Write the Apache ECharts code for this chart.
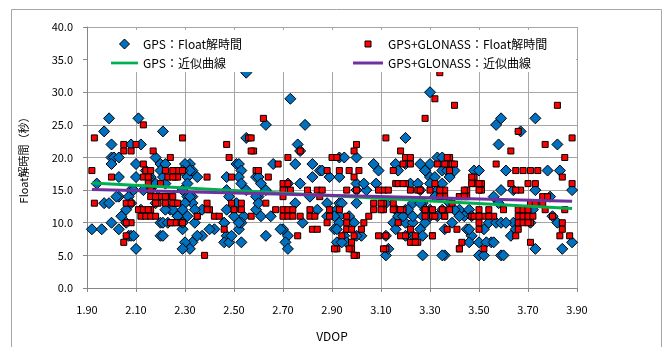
<!DOCTYPE html>
<html>
<head>
<meta charset="utf-8">
<script src="https://cdn.jsdelivr.net/npm/echarts@6/dist/echarts.min.js"></script>
<style>
  html, body { margin: 0; padding: 0; background: #fff; }
  #chart { width: 668px; height: 347px; }
</style>
</head>
<body>
<div id="chart"></div>
<script>
// GPS only: [VDOP, Float解時間]
const gpsPoints = [
  [1.92,9],[1.96,9],[1.99,26],[1.97,24],[2.0,22],[2.0,20],[2.01,20],[2.03,20],[2.0,19],[1.94,16],
  [1.97,13],[1.99,13],[2.0,10],[2.03,14],[2.02,14],[2.04,11],[2.06,10],[2.07,8],[2.1,6],[2.03,17],
  [2.11,26],[2.12,22],[2.08,22],[2.1,19],[2.1,17],[2.08,15],[2.09,15],[2.07,14],[2.08,13],[2.06,12],
  [2.08,8],[2.09,8],[2.03,9],[2.18,20],[2.2,19],[2.2,18],[2.21,17],[2.18,16],[2.16,17],[2.21,24],
  [2.14,18],[2.15,17],[2.13,15],[2.16,15],[2.19,14],[2.18,13],[2.2,10],[2.21,10],[2.2,8],[2.21,8],
  [2.24,12],[2.25,12],[2.23,10],[2.27,11],[2.29,9],[2.32,19],[2.33,18],[2.35,17],[2.31,17],[2.31,14],
  [2.33,14],[2.33,13],[2.33,7],[2.32,6],[2.34,10],[2.37,8],[2.42,9],[2.37,12],[2.47,17],[2.47,15],
  [2.46,10],[2.47,8],[2.46,7],[2.48,7],[2.49,8],[2.51,19],[2.52,19],[2.53,18],[2.52,17],[2.53,16],
  [2.55,15],[2.55,23],[2.53,7],[2.52,9],[2.5,12],[2.51,13],[2.54,11],[2.53,10],[2.59,17],[2.6,14],
  [2.59,12],[2.55,33],[2.22,19],[2.12,12],[2.22,12],[2.22,16],
  [2.3,19],[2.32,18],[2.29,18],[2.31,16],[2.29,15],[2.32,14],[2.3,13],[2.34,12],[2.29,12],[2.31,11],
  [2.27,11],[2.29,10],[2.35,8],[2.3,7],[2.29,6],[2.4,9],[2.46,10],[2.47,12],[2.48,14],[2.5,11],[2.52,10],
  [2.63,25],[2.79,25],[2.76,22],[2.77,21],[2.66,19],[2.75,19],[2.82,19],[2.85,18],[2.82,17],[2.86,18],
  [2.93,20],[2.95,20],[3.0,20],[2.93,17],[2.89,17],[3.07,19],[3.09,18],[3.08,16],[3.2,23],[3.16,19],
  [3.2,19],[3.28,18],[3.3,19],[3.33,20],[3.35,18],[2.6,17],[2.61,16],[2.63,15],[2.72,16],[2.77,16],
  [3.0,15],[3.04,15],[2.59,14],[2.6,13],[2.61,11],[2.65,11],[2.75,13],[2.78,10],[2.84,12],[2.88,13],
  [2.92,12],[2.93,11],[3.0,13],[2.88,11],[2.63,8],[2.7,9],[2.72,8],[2.71,7],[2.72,6],[2.91,9],
  [2.92,7],[2.96,7],[3.02,8],[2.99,10],[3.12,13],[3.16,12],[3.2,12],[3.15,10],[3.2,10],[3.23,10],
  [3.12,5],[3.16,9],[3.23,8],[3.26,9],[3.27,8],[3.27,5],[3.36,5],[3.23,13],[3.27,13],[3.3,12],
  [3.33,11],[3.35,12],[3.33,15],[3.35,16],[3.3,17],[3.22,16],[3.26,15],[3.32,14],[2.81,14],[2.97,11],
  [2.73,29],[3.3,30],[2.69,9],
  [3.0,16],[3.03,16],[2.93,13],[2.94,13],[2.91,11],[2.93,10],[2.92,9],[2.95,8],[2.96,7],[2.94,7],
  [3.0,8],[3.12,8],[3.13,6],[3.17,11],[3.19,11],[3.21,12],[3.23,11],[3.2,8],[3.17,18],
  [3.26,19],[3.28,18],[3.32,17],[3.25,16],[3.3,16],[3.26,13],[3.28,12],[3.27,11],[3.3,11],[3.28,10],
  [3.42,12],[3.44,11],[3.4,12],[3.38,13],[3.45,9],[3.47,8],[3.55,7],
  [3.57,25],[3.59,26],[3.73,26],[3.67,24],[3.58,22],[3.82,22],[3.35,20],[3.37,18],[3.38,17],[3.4,18],
  [3.48,18],[3.5,18],[3.61,18],[3.78,18],[3.83,18],[3.59,15],[3.73,15],[3.88,15],[3.56,14],[3.58,13],
  [3.42,11],[3.39,10],[3.36,9],[3.46,12],[3.47,11],[3.46,9],[3.52,9],[3.54,10],[3.57,10],[3.59,10],
  [3.64,10],[3.63,8],[3.65,9],[3.46,7],[3.5,7],[3.53,7],[3.56,7],[3.5,5],[3.52,5],[3.59,5],
  [3.35,5],[3.73,6],[3.8,11],[3.82,10],[3.84,6],[3.88,7],[3.68,11],[3.72,12],
  [3.79,14],[3.64,15],[3.71,10],[3.6,5],[3.61,10]
];

// GPS+GLONASS: [VDOP, Float解時間]
const glonassPoints = [
  [1.92,18],[1.93,23],[1.93,13],[2.0,17],[2.05,22],[2.05,21],[2.08,21],[2.06,13],[2.08,13],[2.08,10],
  [2.06,8],[2.05,7],[2.1,22],[2.13,25],[2.13,19],[2.14,18],[2.13,17],[2.12,12],[2.12,11],[2.14,11],
  [2.16,18],[2.15,17],[2.16,15],[2.16,14],[2.16,12],[2.16,11],[2.18,11],[2.17,21],[2.19,13],[2.2,16],
  [2.2,14],[2.22,18],[2.23,17],[2.23,14],[2.24,20],[2.26,18],[2.26,17],[2.27,18],[2.27,17],[2.25,14],
  [2.26,13],[2.25,10],[2.28,10],[2.29,18],[2.29,23],[2.35,11],[2.38,5],[2.39,17],[2.39,13],[2.4,12],
  [2.42,11],[2.44,11],[2.46,9],[2.47,22],[2.48,20],[2.49,17],[2.49,13],[2.5,12],[2.53,13],[2.56,23],
  [2.58,21],[2.59,18],[2.57,11],
  [2.11,12],[2.13,12],[2.15,12],[2.18,14],[2.22,14],[2.22,13],[2.18,13],[2.06,10],[2.15,16],
  [2.25,18],[2.25,17],[2.25,13],[2.27,13],[2.39,12],[2.35,11],[2.26,10],[2.24,10],[2.29,10],[2.53,12],
  [2.62,26],[3.28,26],[2.57,23],[2.57,21],[2.77,21],[3.0,22],[2.99,21],[3.12,23],[3.18,21],[3.2,20],
  [3.22,20],[3.22,19],[3.15,18],[3.19,19],[2.9,20],[2.72,20],[2.68,19],[2.6,18],[2.64,17],[2.88,18],
  [2.93,18],[2.97,18],[3.01,18],[2.99,17],[2.7,16],[2.72,16],[2.7,15],[2.73,15],[2.7,14],[2.8,15],
  [2.84,15],[2.86,15],[2.85,14],[2.96,15],[3.0,15],[3.11,15],[3.13,15],[3.16,16],[3.2,16],[3.25,15],
  [3.32,16],[2.63,13],[2.67,12],[2.7,12],[2.72,12],[2.74,12],[2.7,11],[2.72,11],[2.74,11],[2.81,12],
  [2.81,11],[2.83,11],[2.77,11],[2.89,12],[2.93,12],[2.96,11],[2.96,10],[2.97,9],[3.03,10],[3.05,11],
  [3.07,13],[3.07,12],[3.11,13],[3.11,12],[3.16,12],[3.19,12],[3.28,12],[3.31,11],[3.35,12],[2.82,9],
  [2.84,9],[2.88,10],[2.76,8],[2.94,8],[2.98,7],[2.98,6],[3.0,5],[2.92,6],[3.12,8],[3.12,6],
  [3.17,10],[3.23,7],[3.25,7],[3.31,8],[3.32,11],[2.91,6],[2.89,11],
  [3.32,29],[3.4,28],[3.34,33],[3.82,28],
  [2.92,20],[3.09,15],[3.17,16],[3.19,16],[3.22,15],[3.1,13],[3.1,12],[3.15,13],[3.15,12],[3.18,12],
  [2.96,9],[2.98,9],[3.02,9],[2.99,8],[3.09,8],[3.11,6],[3.18,8],[3.2,8],[3.22,9],[3.24,8],
  [3.22,7],[3.24,7],[2.97,6],[2.99,5],
  [3.33,19],[3.37,19],[3.38,20],[3.39,19],[3.48,17],[3.48,16],[3.51,16],[3.51,15],[3.26,15],[3.3,15],
  [3.36,15],[3.36,14],[3.45,15],[3.45,14],[3.42,14],[3.28,12],[3.31,12],[3.38,12],[3.39,13],[3.28,11],
  [3.36,11],[3.47,11],[3.5,12],[3.52,11],[3.56,11],[3.37,9],[3.31,8],[3.42,6],[3.43,7],
  [3.66,24],[3.63,21],[3.77,22],[3.88,23],[3.85,20],[3.57,19],[3.37,20],[3.36,19],[3.4,19],[3.38,18],
  [3.65,18],[3.68,18],[3.71,18],[3.74,18],[3.47,17],[3.47,16],[3.5,16],[3.5,15],[3.63,16],[3.67,15],
  [3.7,16],[3.73,16],[3.65,15],[3.84,17],[3.88,16],[3.44,15],[3.42,14],[3.44,14],[3.34,15],[3.34,14],
  [3.76,14],[3.78,14],[3.66,12],[3.68,12],[3.7,12],[3.66,11],[3.68,11],[3.7,11],[3.72,11],[3.48,11],
  [3.5,11],[3.54,11],[3.6,12],[3.54,12],[3.76,13],[3.77,12],[3.8,11],[3.85,12],[3.84,10],[3.84,9],
  [3.83,8],[3.87,8],[3.71,10],[3.66,10],[3.66,9],[3.5,10],[3.5,9],[3.41,9],[3.36,11],[3.42,6],
  [3.65,8],[3.71,7],[3.52,6],[3.71,13],[3.73,13],[3.68,10],[3.7,10]
];

// 近似曲線 (end points)
const gpsTrend = [[1.92, 16.1], [3.88, 12.2]];
const glonassTrend = [[1.92, 15.1], [3.88, 13.3]];

const xTicks = { min: 1.9, max: 3.9, step: 0.2 };
const yTicks = { min: 0, max: 40, step: 5 };

const font = '"Noto Sans CJK JP", sans-serif';
const lineIcon = 'path://M0,0L30,0L30,3L0,3Z';
const diamondIcon = 'path://M5,0L10,5L5,10L0,5Z';
const squareIcon = 'path://M0,0L6,0L6,6L0,6Z';
const chart = echarts.init(document.getElementById('chart'));

const legendText = { fontSize: 12, color: '#000', fontFamily: font };

const option = {
  animation: false,
  backgroundColor: '#fff',
  textStyle: { fontFamily: font },
  grid: { left: 87, right: 91, top: 27, bottom: 54 },
  graphic: [
    {
      type: 'rect', z: 0, silent: true,
      shape: { x: 11.5, y: 9.5, width: 650, height: 345 },
      style: { fill: 'none', stroke: '#a6a6a6', lineWidth: 1 }
    },
    {
      type: 'rect', z: 3, silent: true,
      shape: { x: 88, y: 30, width: 488, height: 42 },
      style: { fill: '#fff' }
    }
  ],
  legend: [
    {
      orient: 'vertical', left: 106, top: 33,
      itemWidth: 27, itemHeight: 10, itemGap: 7,
      symbolKeepAspect: true,
      data: [
        { name: 'GPS：Float解時間', icon: diamondIcon, itemStyle: { borderColor: '#000', borderWidth: 1 } },
        { name: 'GPS：近似曲線', icon: lineIcon }
      ],
      textStyle: legendText
    },
    {
      orient: 'vertical', left: 348, top: 33,
      itemWidth: 30, itemHeight: 6, itemGap: 7,
      symbolKeepAspect: true,
      data: [
        { name: 'GPS+GLONASS：Float解時間', icon: squareIcon, itemStyle: { borderColor: '#000', borderWidth: 1 } },
        { name: 'GPS+GLONASS：近似曲線', icon: lineIcon }
      ],
      textStyle: legendText
    }
  ],
  xAxis: {
    type: 'value',
    min: xTicks.min, max: xTicks.max, interval: xTicks.step,
    name: 'VDOP', nameLocation: 'middle', nameGap: 42,
    nameTextStyle: { fontSize: 12, color: '#000', fontFamily: font },
    axisLine: { lineStyle: { color: '#868686' } },
    axisTick: { show: true, length: 4, lineStyle: { color: '#868686' } },
    axisLabel: { fontSize: 11, color: '#000', margin: 16, formatter: v => v.toFixed(2) },
    splitLine: { show: true, lineStyle: { color: '#a6a6a6', width: 1 } }
  },
  yAxis: {
    type: 'value',
    min: yTicks.min, max: yTicks.max, interval: yTicks.step,
    name: 'Float解時間（秒）', nameLocation: 'middle', nameGap: 58, nameRotate: 90,
    nameTextStyle: { fontSize: 11, color: '#000', fontFamily: font },
    axisLine: { show: true, lineStyle: { color: '#868686' } },
    axisTick: { show: true, length: 4, lineStyle: { color: '#868686' } },
    axisLabel: { fontSize: 11, color: '#000', margin: 14, formatter: v => v.toFixed(1) },
    splitLine: { show: true, lineStyle: { color: '#a6a6a6', width: 1 } }
  },
  series: [
    {
      name: 'GPS：Float解時間',
      type: 'scatter',
      symbol: 'diamond',
      symbolSize: 11,
      itemStyle: { color: '#0070C0', borderColor: '#000', borderWidth: 1, opacity: 1 },
      data: gpsPoints
    },
    {
      name: 'GPS+GLONASS：Float解時間',
      type: 'scatter',
      symbol: 'rect',
      symbolSize: 6,
      itemStyle: { color: '#FF0000', borderColor: '#000', borderWidth: 1, opacity: 1 },
      data: glonassPoints
    },
    {
      name: 'GPS：近似曲線',
      type: 'line',
      symbol: 'none',
      z: 3,
      lineStyle: { color: '#00B050', width: 3 },
      itemStyle: { color: '#00B050' },
      data: gpsTrend
    },
    {
      name: 'GPS+GLONASS：近似曲線',
      type: 'line',
      symbol: 'none',
      z: 3,
      lineStyle: { color: '#7030A0', width: 3 },
      itemStyle: { color: '#7030A0' },
      data: glonassTrend
    }
  ]
};

chart.setOption(option);
</script>
</body>
</html>
